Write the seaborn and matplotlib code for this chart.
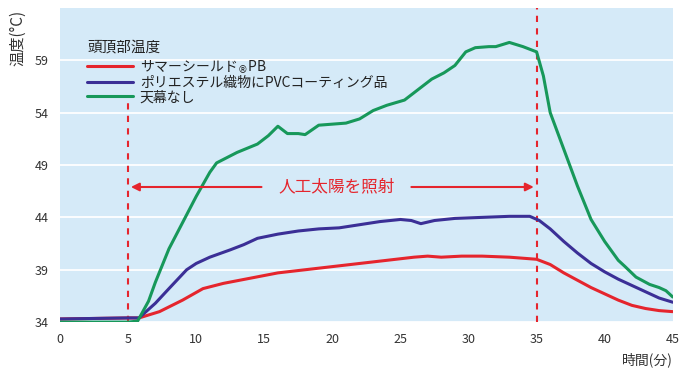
import matplotlib
matplotlib.use('Agg')
from matplotlib import pyplot as plt
import seaborn as sns
import pandas as pd

# data
red_x = [0, 5, 5.8, 7.3, 9, 10.5, 12, 14, 16, 18, 20, 22, 24, 26, 27, 28, 29.5, 31, 33, 35,
         36, 37, 38, 39, 40, 41, 42, 43, 44, 45]
red_y = [34.3, 34.4, 34.4, 35.0, 36.1, 37.2, 37.7, 38.2, 38.7, 39.0, 39.3, 39.6, 39.9, 40.2, 40.3,
         40.2, 40.3, 40.3, 40.2, 40.0, 39.5, 38.7, 38.0, 37.3, 36.7, 36.1, 35.6, 35.3, 35.1, 35.0]

blue_x = [0, 5, 5.8, 7, 8, 9.3, 10, 11, 12.5, 13.5, 14.5, 16, 17.5, 19, 20.5, 22, 23.5, 25, 25.8,
          26.5, 27.5, 29, 31, 33, 34.5, 35.2, 36, 37, 38, 39, 40, 41, 42, 43, 44, 45]
blue_y = [34.3, 34.4, 34.4, 35.8, 37.2, 39.0, 39.6, 40.2, 40.9, 41.4, 42.0, 42.4, 42.7, 42.9, 43.0,
          43.3, 43.6, 43.8, 43.7, 43.4, 43.7, 43.9, 44.0, 44.1, 44.1, 43.7, 42.9, 41.7, 40.6, 39.6,
          38.8, 38.1, 37.5, 36.9, 36.3, 35.9]

green_x = [0, 5, 5.7, 6.5, 7, 8, 9, 10, 11, 11.5, 13, 14.5, 15.3, 16, 16.7, 17.5, 18, 19, 20, 21,
           22, 23, 24, 25.3, 26.3, 27.3, 28.2, 29, 29.8, 30.5, 31.5, 32, 33, 34, 35, 35.5, 36, 37,
           38, 39, 40, 41, 41.5, 42.3, 43.3, 44, 44.5, 45]
green_y = [34.0, 34.0, 34.1, 36.0, 37.8, 41.0, 43.5, 46.0, 48.3, 49.2, 50.2, 51.0, 51.8, 52.7, 52.0,
           52.0, 51.9, 52.8, 52.9, 53.0, 53.4, 54.2, 54.7, 55.2, 56.2, 57.2, 57.8, 58.5, 59.8, 60.2,
           60.3, 60.3, 60.7, 60.3, 59.8, 57.5, 54.0, 50.5, 47.0, 43.8, 41.7, 39.9, 39.3, 38.3, 37.6,
           37.3, 37.0, 36.4]

labels = ['サマーシールド$_{®}$PB', 'ポリエステル織物にPVCコーティング品', '天幕なし']
colors = ['#e5252d', '#3b2f96', '#17985a']
xticks = [0, 5, 10, 15, 20, 25, 30, 35, 40, 45]
yticks = [34, 39, 44, 49, 54, 59]

df = pd.concat([
    pd.DataFrame({'time': red_x, 'temp': red_y, 'series': labels[0]}),
    pd.DataFrame({'time': blue_x, 'temp': blue_y, 'series': labels[1]}),
    pd.DataFrame({'time': green_x, 'temp': green_y, 'series': labels[2]}),
], ignore_index=True)

sns.set_style('white')
plt.rcParams['font.family'] = ['Noto Sans CJK JP', 'DejaVu Sans']

fig = plt.figure(figsize=(6.9, 3.75), dpi=100)
ax = fig.add_axes([0.087, 0.141, 0.888, 0.838])
ax.set_facecolor('#d5eaf8')

sns.lineplot(data=df, x='time', y='temp', hue='series', palette=colors,
             hue_order=labels, linewidth=2.2, ax=ax, sort=False)

ax.set_xlim(0, 45)
ax.set_ylim(34, 64)
ax.set_xticks(xticks)
ax.set_yticks(yticks)
ax.grid(axis='y', color='white', linewidth=1.3)
ax.set_axisbelow(True)
for s in ax.spines.values():
    s.set_visible(False)
ax.tick_params(length=0, labelsize=9, labelcolor='#333333', pad=8)
ax.set_xlabel('')
ax.set_ylabel('')

# dashed lines for the irradiation period (left one stops under the legend)
ax.axvline(5, ymax=0.70, color='#e5252d', linestyle=(0, (3, 3)), linewidth=1.5, zorder=1)
ax.axvline(35, color='#e5252d', linestyle=(0, (3, 3)), linewidth=1.5, zorder=1)

# arrow + label
ax.annotate('', xy=(5, 46.9), xytext=(15.0, 46.9),
            arrowprops=dict(arrowstyle='-|>', color='#e5252d', lw=1.5, mutation_scale=12))
ax.annotate('', xy=(35, 46.9), xytext=(25.6, 46.9),
            arrowprops=dict(arrowstyle='-|>', color='#e5252d', lw=1.5, mutation_scale=12))
ax.text(20.3, 46.9, '人工太陽を照射', color='#e5252d', fontsize=12, ha='center', va='center')

leg = ax.legend(title='頭頂部温度', loc='upper left', bbox_to_anchor=(0.035, 0.915),
                frameon=False, fontsize=10, title_fontsize=10.5, handlelength=3.3,
                handletextpad=0.5, labelspacing=0.05, borderaxespad=0)
leg._legend_box.align = 'left'
leg._legend_box.sep = 3
for t in leg.get_texts():
    t.set_color('#222222')
leg.get_title().set_color('#222222')

fig.text(0.026, 0.975, '温度(°C)', rotation=90, ha='center', va='top', fontsize=11, color='#333333')
fig.text(0.975, 0.02, '時間(分)', ha='right', va='bottom', fontsize=10, color='#333333')

fig.savefig('out.png', dpi=100)
